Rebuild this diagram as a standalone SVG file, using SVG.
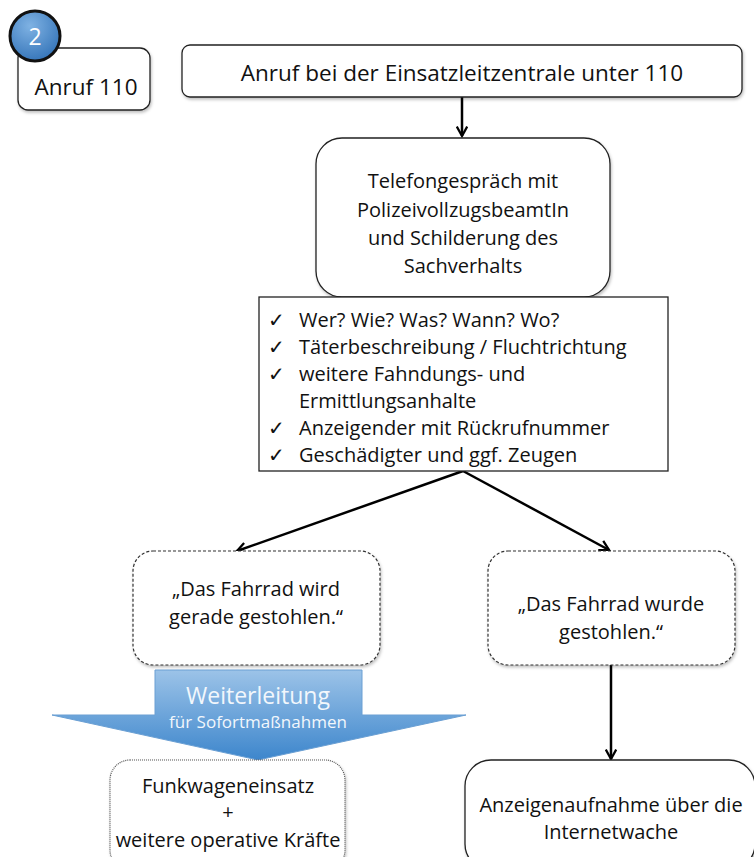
<svg xmlns="http://www.w3.org/2000/svg" width="754" height="857" viewBox="0 0 754 857">
<defs>
<style>
text{font-family:"Open Sans","Liberation Sans",sans-serif;fill:#111;text-anchor:middle}
.box{fill:#fff;stroke:#222;stroke-width:1.3}
.dash{fill:#fff;stroke:#333;stroke-width:1.2;stroke-dasharray:3 2}
.dot{fill:#fff;stroke:#555;stroke-width:1.2;stroke-dasharray:1 1}
.conn{stroke:#000;stroke-width:2.5;fill:none}
.t19{font-size:20px}
.ck{text-anchor:start;font-size:20px}
</style>
<marker id="ah" viewBox="0 0 12 12" refX="10" refY="6" markerWidth="5" markerHeight="5" orient="auto" markerUnits="strokeWidth">
<path d="M1,1 L10,6 L1,11" fill="none" stroke="#000" stroke-width="2.2"/>
</marker>
<linearGradient id="blue" x1="0" y1="0" x2="0" y2="1">
<stop offset="0" stop-color="#9cc3e8"/>
<stop offset="1" stop-color="#3d86cc"/>
</linearGradient>
<radialGradient id="circ" cx="0.4" cy="0.3" r="0.8">
<stop offset="0" stop-color="#7fb2e3"/>
<stop offset="1" stop-color="#2e6fb5"/>
</radialGradient>
<filter id="sh" x="-10%" y="-10%" width="120%" height="130%">
<feDropShadow dx="1" dy="2" stdDeviation="1.5" flood-color="#000" flood-opacity="0.25"/>
</filter>
</defs>
<rect width="754" height="857" fill="#fff"/>

<g id="connectors">
<line class="conn" x1="462" y1="97" x2="462" y2="136" marker-end="url(#ah)"/>
<line class="conn" x1="463" y1="471" x2="237" y2="551" marker-end="url(#ah)"/>
<line class="conn" x1="463" y1="471" x2="609" y2="550" marker-end="url(#ah)"/>
<line class="conn" x1="611" y1="665" x2="611" y2="759" marker-end="url(#ah)"/>
</g>

<g id="node-anruf110">
<rect class="box" x="18" y="48" width="132" height="62" rx="10" filter="url(#sh)"/>
<text x="86" y="95" font-size="22.5">Anruf 110</text>
</g>
<g id="node-badge">
<circle cx="35" cy="36" r="25" fill="url(#circ)" stroke="#111" stroke-width="3"/>
<text x="35" y="45" font-size="23" style="fill:#fff">2</text>
</g>

<g id="node-top">
<rect class="box" x="182" y="45" width="560" height="52" rx="8" filter="url(#sh)"/>
<text x="462" y="81" font-size="22.5">Anruf bei der Einsatzleitzentrale unter 110</text>
</g>

<g id="node-telefon">
<rect class="box" x="316" y="138" width="294" height="159" rx="26" filter="url(#sh)"/>
<text class="t19" x="463" y="188">Telefongespräch mit</text>
<text class="t19" x="463" y="217">PolizeivollzugsbeamtIn</text>
<text class="t19" x="463" y="245">und Schilderung des</text>
<text class="t19" x="463" y="273">Sachverhalts</text>
</g>

<g id="node-checklist">
<rect class="box" x="259" y="297" width="409" height="174"/>
<text class="ck" x="268" y="327">✓</text><text class="ck" x="299" y="327">Wer? Wie? Was? Wann? Wo?</text>
<text class="ck" x="268" y="354">✓</text><text class="ck" x="299" y="354">Täterbeschreibung / Fluchtrichtung</text>
<text class="ck" x="268" y="381">✓</text><text class="ck" x="299" y="381">weitere Fahndungs- und</text>
<text class="ck" x="299" y="408">Ermittlungsanhalte</text>
<text class="ck" x="268" y="435">✓</text><text class="ck" x="299" y="435">Anzeigender mit Rückrufnummer</text>
<text class="ck" x="268" y="462">✓</text><text class="ck" x="299" y="462">Geschädigter und ggf. Zeugen</text>
</g>

<g id="node-wird">
<rect class="dash" x="133" y="551" width="247" height="114" rx="20" filter="url(#sh)"/>
<text class="t19" x="256" y="596">„Das Fahrrad wird</text>
<text class="t19" x="256" y="624">gerade gestohlen.“</text>
</g>

<g id="node-wurde">
<rect class="dash" x="488" y="551" width="247" height="114" rx="20" filter="url(#sh)"/>
<text class="t19" x="611" y="611">„Das Fahrrad wurde</text>
<text class="t19" x="611" y="639">gestohlen.“</text>
</g>

<g id="node-weiterleitung">
<path d="M155,670 H362 V715 H466 L258,760 L52,715 H155 Z" fill="url(#blue)" stroke="#6a9fd3" stroke-width="1"/>
<text x="258" y="704" font-size="23" style="fill:#f2f7fc">Weiterleitung</text>
<text x="258" y="728" font-size="17" style="fill:#f2f7fc">für Sofortmaßnahmen</text>
</g>

<g id="node-funk">
<rect class="dot" x="110" y="760" width="235" height="110" rx="20" filter="url(#sh)"/>
<text class="t19" x="228" y="793">Funkwageneinsatz</text>
<text class="t19" x="228" y="819">+</text>
<text class="t19" x="228" y="847">weitere operative Kräfte</text>
</g>

<g id="node-anzeige">
<rect class="box" x="465" y="760" width="290" height="110" rx="26" filter="url(#sh)"/>
<text class="t19" x="611" y="812">Anzeigenaufnahme über die</text>
<text class="t19" x="611" y="839">Internetwache</text>
</g>
</svg>
